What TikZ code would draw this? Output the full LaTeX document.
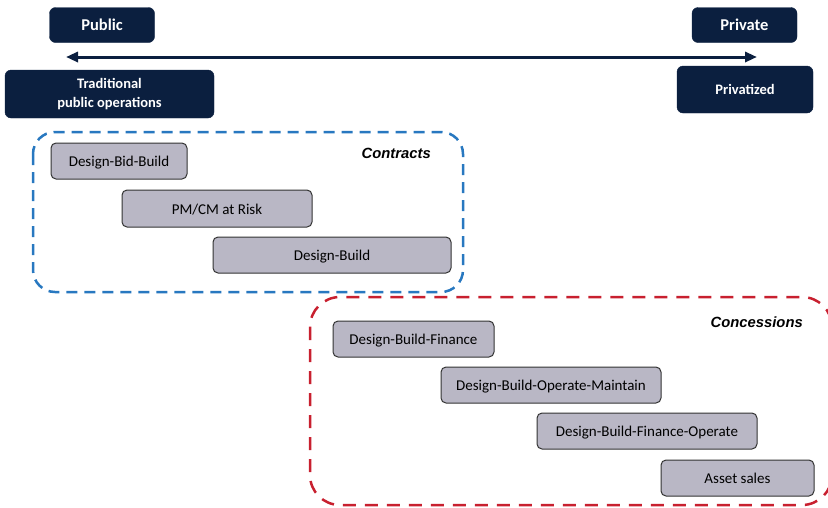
\documentclass[tikz,border=0pt]{standalone}
\usepackage{fontspec}
\setmainfont{Carlito}
\newfontfamily\labelfont{Liberation Sans}
\usetikzlibrary{arrows.meta}
\definecolor{navy}{HTML}{0B1F3F}
\definecolor{boxgrey}{HTML}{B9B7C5}
\definecolor{contractblue}{HTML}{2878C0}
\definecolor{concessred}{HTML}{C8202F}
\tikzset{
  headbox/.style={draw=navy, fill=navy, rounded corners=6pt, text=white,
    font=\fontsize{14.5}{19}\selectfont\bfseries, align=center, inner sep=0pt},
  modelbox/.style={draw=black!80, fill=boxgrey, rounded corners=5pt, line width=1pt,
    minimum height=36pt, inner sep=0pt, text height=11pt, text depth=0pt,
    font=\fontsize{15}{17}\selectfont},
  grouplabel/.style={anchor=east, inner sep=0pt, font=\fontsize{14.8}{17}\selectfont\labelfont\bfseries\itshape}
}
\begin{document}
\begin{tikzpicture}[x=1pt,y=-1pt]
\useasboundingbox (0,0) rectangle (828,507);
% public -- private scale
\node (public) [headbox, font=\fontsize{16.5}{19}\selectfont\bfseries, minimum width=105pt, minimum height=35pt] at (102,25) {Public};
\node (private) [headbox, font=\fontsize{16.5}{19}\selectfont\bfseries, minimum width=105pt, minimum height=35pt] at (744.5,25) {Private};
\coordinate (scaleleft) at (66,57);
\coordinate (scaleright) at (757,57);
\draw [navy, line width=3pt, {Triangle[length=12pt,width=10pt]}-{Triangle[length=12pt,width=10pt]}] (scaleleft) -- (scaleright);
\node (traditional) [headbox, minimum width=209pt, minimum height=48pt] at (109.5,94) {Traditional\\public operations};
\node (privatized) [headbox, minimum width=136pt, minimum height=47pt] at (745,89.5) {Privatized};
% contracts
\draw [contractblue, line width=2.5pt, dash pattern=on 11pt off 7pt, rounded corners=22pt] (33,132) rectangle (463,292);
\node (contracts) [grouplabel] at (431,153) {Contracts};
\node (dbb) [modelbox, minimum width=136pt] at (119,161) {Design-Bid-Build};
\node (pmcm) [modelbox, minimum width=190pt, minimum height=37pt] at (217,208.5) {PM/CM at Risk};
\node (db) [modelbox, minimum width=238pt] at (332,255) {Design-Build};
% concessions
\draw [concessred, line width=2.5pt, dash pattern=on 13pt off 9pt, rounded corners=30pt] (310,297) rectangle (832,505);
\node (concessions) [grouplabel] at (803,322) {Concessions};
\node (dbf) [modelbox, minimum width=161pt] at (413.5,339) {Design-Build-Finance};
\node (dbom) [modelbox, minimum width=220pt] at (551,385) {Design-Build-Operate-Maintain};
\node (dbfo) [modelbox, minimum width=220pt] at (647,431) {Design-Build-Finance-Operate};
\node (assets) [modelbox, minimum width=153pt] at (737.5,478) {Asset sales};
\end{tikzpicture}
\end{document}
